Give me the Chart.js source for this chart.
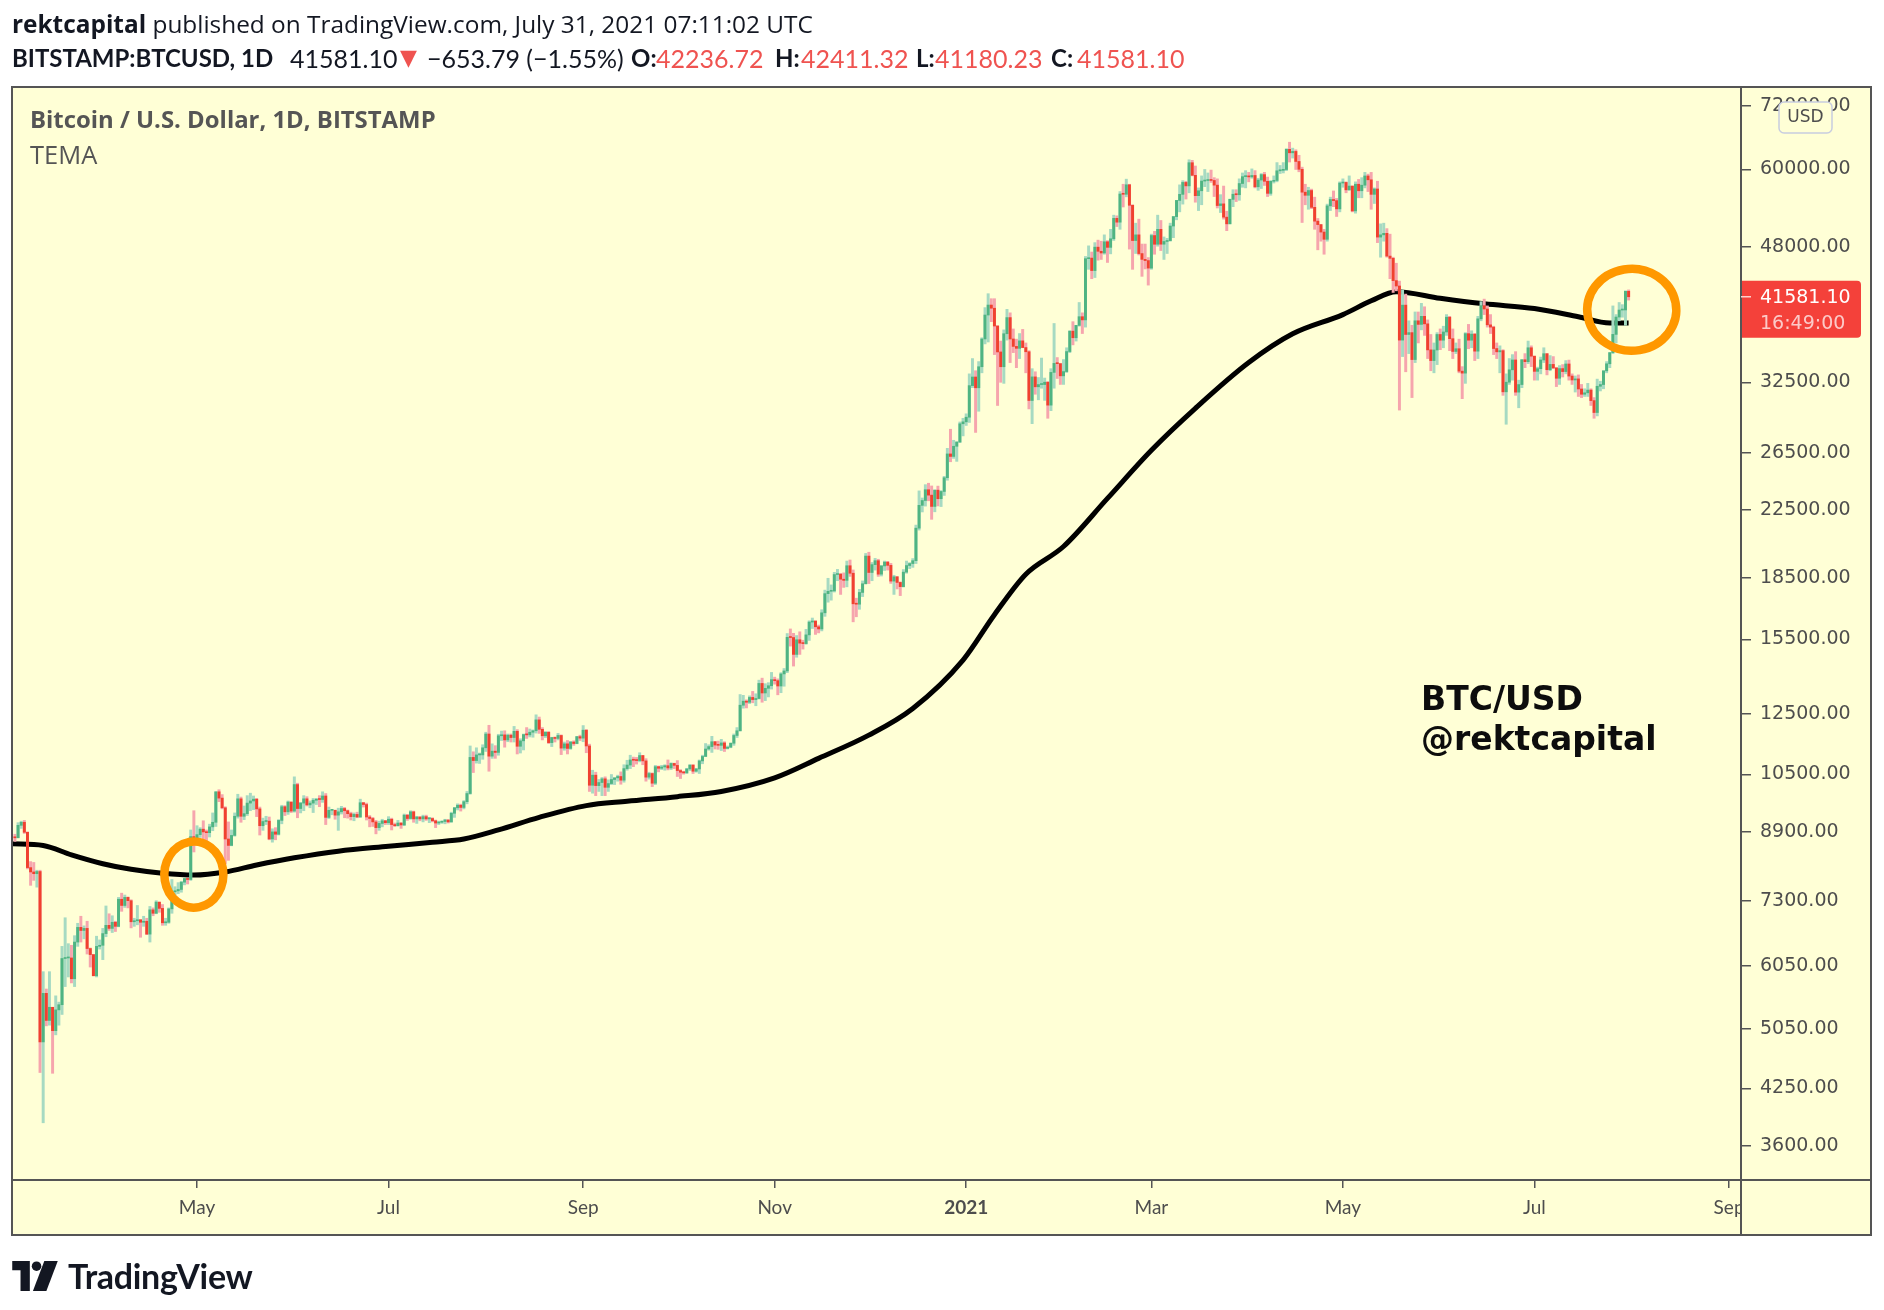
<!DOCTYPE html>
<html>
<head>
<meta charset="utf-8">
<script src="https://cdn.jsdelivr.net/npm/chart.js@4.4.1/dist/chart.umd.min.js"></script>
<style>
  html, body { margin: 0; padding: 0; background: #fff; }
  #page { position: relative; width: 1884px; height: 1310px; overflow: hidden; font-family: Lato, "Open Sans", sans-serif; color: #131722; }
  #wrap { position: absolute; left: 0; top: 0; width: 1884px; height: 1310px; }
  .hdr { position: absolute; white-space: nowrap; line-height: 28px; }
  #line1 { left: 12px; top: 10px; font-family: "Open Sans"; font-size: 24.4px; }
  .l2 { top: 44px; font-size: 25px; }
  .l2b { top: 44px; font-size: 24px; font-weight: 700; }
  .red { color: #ef5350; }
  .tri { top: 44px; font-family: "DejaVu Sans"; font-size: 22px; color: #ef5350; }
  .pane-title { position: absolute; left: 30px; top: 105px; font-family: "Open Sans"; font-size: 23.9px; line-height: 28px; font-weight: 700; color: #555; white-space: nowrap; }
  .pane-sub { position: absolute; left: 30px; top: 140px; font-family: "Open Sans"; font-size: 25.5px; line-height: 28px; color: #555; }
  .note { position: absolute; left: 1421px; top: 679px; font: bold 33px "DejaVu Sans"; line-height: 40px; color: #0d0d0d; white-space: nowrap; }
  #logo { position: absolute; left: 12px; top: 1255px; display: flex; align-items: center; }
  #logo span { font: bold 34px Lato; color: #131722; margin-left: 10px; letter-spacing: -0.3px; }
</style>
</head>
<body>
<div id="page">
  <div id="wrap"><canvas id="chart"></canvas></div>
  <div id="line1" class="hdr"><b>rektcapital</b> published on TradingView.com, July 31, 2021 07:11:02 UTC</div>
  <div class="hdr l2b" style="left:12px">BITSTAMP:BTCUSD, 1D</div>
  <div class="hdr l2" style="left:290px">41581.10</div>
  <div class="hdr tri" style="left:400px">▼</div>
  <div class="hdr l2" style="left:427px">−653.79 (−1.55%)</div>
  <div class="hdr l2b" style="left:631px">O:</div><div class="hdr l2 red" style="left:656px">42236.72</div>
  <div class="hdr l2b" style="left:775px">H:</div><div class="hdr l2 red" style="left:801px">42411.32</div>
  <div class="hdr l2b" style="left:916px">L:</div><div class="hdr l2 red" style="left:935px">41180.23</div>
  <div class="hdr l2b" style="left:1051px">C:</div><div class="hdr l2 red" style="left:1077px">41581.10</div>
  <div class="pane-title">Bitcoin / U.S. Dollar, 1D, BITSTAMP</div>
  <div class="pane-sub">TEMA</div>
  <div class="note">BTC/USD<br>@rektcapital</div>
  <div id="logo">
    <svg width="46" height="30" viewBox="0 0 44 29">
      <path d="M0 0 H17 V29 H8 V9 H0 Z" fill="#131722"/>
      <circle cx="23.5" cy="5" r="4.6" fill="#131722"/>
      <path d="M31 0 H44 L33 29 H20 Z" fill="#131722"/>
    </svg>
    <span>TradingView</span>
  </div>
</div>
<script>
// daily candles, first one is 2020-03-04, one per day up to 2021-07-31
const startDate = '2020-03-04';

const opens = [
  8760,8750,9070,9150,8890,8030,7930,7890,7940,4860,5590,5170,5370,5020,5330,5410,6180,6190,6190,5830,6480,6760,6700,6740,6360,6250,5880,6400,
  6420,6640,6800,6740,6860,6780,7330,7200,7370,7300,6870,6890,6910,6860,6880,6630,7110,7040,7270,7140,6850,6860,7130,7490,7510,7540,7700,7780,7760,8780,
  8620,8830,8970,8900,8880,9030,9150,9990,9810,9540,8720,8560,8810,9310,9790,9310,9380,9670,9730,9780,9510,9060,9170,9180,8720,8900,8840,9200,9570,9430,9700,
  9450,10200,9520,9670,9790,9620,9670,9750,9780,9770,9870,9280,9470,9470,9340,9430,9520,9460,9380,9300,9360,9290,9680,9630,9290,9250,9160,9010,9120,9190,
  9140,9230,9090,9060,9130,9080,9340,9250,9430,9240,9290,9240,9300,9240,9250,9190,9130,9150,9170,9210,9160,9390,9540,9610,9550,9710,9940,11030,10930,11110,11110,
  11340,11800,11070,11230,11190,11740,11770,11600,11760,11680,11890,11390,11570,11780,11770,11860,11910,12290,11960,11740,11860,11510,11680,11650,11750,11330,11470,11320,11530,11480,11710,
  11660,11930,11400,10180,10480,10170,10260,10370,10120,10230,10350,10400,10440,10330,10680,10790,10950,10940,10930,11090,10920,10420,10530,10240,10740,10690,10730,10770,10700,10840,
  10780,10620,10570,10550,10670,10790,10600,10670,10920,11060,11300,11380,11540,11430,11420,11500,11320,11360,11490,11750,11910,12820,12970,12930,13110,13030,13070,13650,13280,13460,13560,
  13800,13760,13550,14030,14150,15590,15580,14840,15480,15330,15310,15700,16290,16340,16070,15970,16730,17680,17800,17820,18680,18700,18430,18370,19160,18750,17170,17150,17740,18190,
  19700,18790,19220,19440,18700,19150,19360,19180,18330,18560,18260,18040,18810,19170,19280,19440,21350,22800,23120,23850,23480,22730,23820,23240,23730,24690,26440,26250,27030,27360,28840,
  29000,29390,32190,33000,31990,33990,36820,39450,40600,40230,38220,35470,33990,37380,39160,36820,36040,35840,36620,35920,35490,30840,33010,32080,32290,32290,32510,30430,33440,34320,34290,
  33110,33520,35510,37660,36950,38290,39260,38900,46400,46480,44840,47970,47400,47170,48720,47940,49140,52120,51550,55900,55860,57410,54120,48890,49700,47090,46310,46150,
  45160,49600,48370,50500,48380,48760,48880,50980,52380,54880,55850,57800,57230,61180,59000,55640,56430,58030,58120,58280,58130,57350,54080,54340,52300,51300,55050,55870,55790,57620,58770,
  58800,58730,58970,57080,58200,59120,57990,56010,57990,58130,59770,59850,59990,63580,62950,63200,61400,60030,56200,55700,56470,53800,51700,51190,50100,49070,54030,55030,54850,53560,
  57700,57800,56580,57200,53250,57500,56430,57340,58890,58240,55850,56720,49380,49700,49920,46750,46450,43560,42890,36700,40590,37300,37500,34700,38800,38400,39300,38460,35680,34600,35670,
  37300,36690,37570,39200,36850,35520,35800,33560,33370,37390,36690,37340,35550,39020,40530,40140,38350,38100,35820,35480,35600,31620,32510,33690,34660,31590,32290,34680,34490,35900,
  35040,33540,33800,34660,35290,33700,34220,33880,32880,33810,33520,34260,33090,32720,32820,31880,31400,31530,31780,30830,29790,32130,32290,33590,34280,35400,37310,39220,40020,40030,42236.72
];
const highs = [
  8840,9140,9180,9200,8900,8170,8150,7970,7970,5950,5660,5950,5370,5550,5450,6400,6950,6450,6420,6600,6840,6980,6790,6880,6370,6250,6590,6520,
  6740,7190,7030,6990,6880,7370,7460,7420,7380,7320,6940,7200,6910,6980,6940,7180,7150,7300,7270,7220,6940,7150,7760,7600,7690,7720,7790,7790,8950,9460,
  9060,9010,9190,8950,9100,9400,9990,10050,9910,9570,9160,8950,9400,9920,9840,9590,9880,9950,9870,9800,9560,9260,9310,9290,8980,9010,9220,9610,9600,9730,9700,
  10430,10240,9690,9880,9850,9730,9800,9800,9880,9990,9940,9560,9490,9480,9530,9580,9550,9480,9420,9400,9420,9780,9690,9670,9330,9280,9200,9180,9230,9200,
  9300,9260,9130,9200,9140,9370,9360,9460,9450,9310,9300,9340,9340,9280,9270,9210,9180,9190,9230,9220,9420,9550,9650,9640,9740,10000,11400,11210,11340,11170,11440,
  11860,12100,11470,11410,11790,11900,11910,11800,11800,12060,11950,11640,11800,12020,11970,11940,12470,12390,12020,11880,11880,11690,11700,11820,11770,11530,11580,11550,11570,11720,11760,
  12090,11950,11460,10630,10570,10350,10410,10430,10340,10500,10400,10480,10580,10800,10940,11100,11040,11030,11180,11090,10990,10570,10550,10780,10760,10780,10800,10950,10860,10850,
  10930,10650,10600,10690,10800,10800,10690,10950,11100,11480,11440,11720,11550,11560,11620,11540,11400,11500,11800,12020,13220,13190,13020,13170,13340,13250,13780,13860,13640,13680,14090,
  13900,13830,14080,14250,15760,15970,15770,15670,15840,15460,15950,16350,16480,16340,16150,16880,17860,18480,18130,18800,18960,18740,18770,19420,19480,18930,17450,17900,18340,19850,
  19920,19340,19570,19520,19170,19420,19400,19290,18640,18570,18290,18950,19420,19330,19560,21540,23770,23290,24200,24300,24110,23840,24100,23790,24790,26870,28390,27500,27390,28990,29300,
  29680,33300,34800,33600,34500,36950,40300,41950,41350,41350,38260,36600,37800,40100,39700,37900,36800,37400,37850,36400,35600,33800,33500,32950,34850,32900,32560,33800,38500,34900,34330,
  34700,35900,37700,38700,38300,40900,39700,46700,48150,47300,48600,48950,48800,49700,48880,50500,52600,52500,56300,57500,58350,57500,54190,51400,52000,48400,48400,46550,
  49800,50200,52600,51800,49400,49200,51400,52400,54900,57400,58100,58000,61700,61600,60600,56900,58900,60000,59400,59900,58600,58400,55800,57200,53200,55100,56600,56600,58400,59400,59800,
  59500,60100,59800,58500,59300,59500,58700,58100,58900,61200,60700,61200,63700,64900,63800,63500,62500,60400,57500,57000,56700,55400,52100,51200,50500,54300,55400,56400,55200,57900,
  58400,57900,58900,57200,57900,58300,58600,59500,59200,59500,56900,58000,51300,51400,50600,49800,46600,45800,43500,42400,41900,38800,38300,39800,39800,40800,40400,38900,37300,36400,37500,
  37900,38200,39500,39300,37900,36400,36800,34000,37500,38400,37700,37400,39300,41000,41300,40500,39500,38200,36400,36100,35700,33300,34800,35200,35500,32700,34700,35300,36600,36100,
  35050,33950,34950,35900,35300,35100,35000,33900,34100,34200,34600,34650,33300,33100,33200,32300,31900,32400,31900,31100,32800,32600,33600,34500,35400,40500,39500,40900,40650,42300,42411.32
];
const lows = [
  8660,8750,8990,8860,8000,7630,7740,7590,4450,3850,5090,5100,4440,4960,5100,5260,5700,5860,5760,5700,6400,6480,6540,6260,6030,5880,5860,6350,
  6160,6580,6700,6660,6680,6770,7080,7160,7150,6750,6780,6810,6570,6780,6620,6480,6990,7030,7060,6800,6800,6840,7040,7420,7450,7480,7640,7660,7740,8400,
  8620,8760,8710,8530,8770,8930,9040,9710,9510,8120,8200,8550,8790,9260,9150,9220,9330,9460,9490,9300,8820,8940,9090,8700,8640,8700,8820,9110,9330,9360,9410,
  9420,9270,9400,9460,9590,9540,9410,9630,9570,9690,9090,9250,9350,9230,8940,9370,9270,9260,9210,9190,9270,9280,9560,9210,9030,9040,8850,8940,9030,9090,
  9090,8950,9040,9050,8990,9060,9200,9230,9150,9120,9190,9160,9200,9140,9160,9010,9090,9120,9110,9130,9150,9280,9480,9450,9510,9650,9920,10560,10850,10840,10970,
  11220,10600,11000,11000,11100,11580,11360,11540,11530,11530,11140,11170,11270,11650,11700,11690,11830,11820,11600,11680,11480,11380,11530,11600,11120,11260,11140,11290,11420,11470,11580,
  11540,11180,10000,9950,9880,10000,9880,9880,10000,10200,10200,10300,10210,10270,10630,10680,10740,10820,10890,10800,10300,10360,10140,10200,10580,10650,10630,10640,10650,10680,
  10440,10380,10510,10530,10620,10530,10570,10530,10830,11060,11260,11190,11300,11290,11250,11220,11300,11340,11420,11680,11900,12710,12720,12880,12910,12800,13050,12930,12990,13130,13430,
  13620,13210,13290,13540,14080,15200,14350,14720,14840,15070,15280,15450,15990,15720,15790,15880,16560,17250,17350,17760,18350,17640,18000,18030,18580,16300,16540,16900,17530,18180,
  18200,18350,18920,18580,18600,18900,18920,18210,17640,17920,17580,18020,18750,19000,19070,19280,21230,22370,22750,23100,21900,22380,22760,22720,23460,24510,25850,26100,25880,27320,27850,
  28700,28950,32000,28130,29900,33400,36300,36500,38700,35200,30400,32500,32400,36700,34400,35400,33900,34800,35900,33400,30100,28850,31400,30900,31950,30850,29300,29950,31950,32860,32300,
  32300,33430,35400,36200,36600,38200,37400,38100,45000,43800,43950,46200,46300,47000,45900,47050,48900,50900,50500,53850,55450,47700,45000,47100,46900,44100,45050,43000,
  45000,47000,48100,47500,46300,47100,48800,49300,51900,53100,54300,55100,56100,58900,54600,53300,54200,57100,56300,57800,55500,53700,53000,52000,50300,51300,53900,54700,54900,57000,56900,
  57900,58500,56900,56500,56800,57300,55500,55700,57700,57900,59300,59400,59800,61300,62000,60000,59600,51500,54200,53500,53600,50500,47600,48800,47000,48800,53300,53900,52400,53100,
  57000,56100,56500,53100,52900,55300,55300,56900,56300,53500,54400,48600,46600,48800,46600,43800,42100,42300,30000,35000,33500,35300,31100,34400,36400,37800,37200,34800,33600,33400,34200,
  35700,35900,37200,35600,34800,35300,33400,31000,32400,35800,35900,34600,34800,38800,39500,38100,37400,35200,34800,33400,31300,28800,32300,32700,31300,30200,32000,33900,34300,34000,
  32700,32700,33300,34400,33200,33600,33800,32100,32300,33000,33300,32700,32300,31600,31200,31100,31200,31200,30400,29300,29500,31700,31900,33400,33900,35300,36400,38800,39200,38300,41180.23
];
const closes = [
  8750,9070,9150,8890,8030,7930,7890,7940,4860,5590,5170,5370,5020,5330,5410,6180,6190,6190,5830,6480,6760,6700,6740,6360,6250,5880,6400,6420,
  6640,6800,6740,6860,6780,7330,7200,7370,7300,6870,6890,6910,6860,6880,6630,7110,7040,7270,7140,6850,6860,7130,7490,7510,7540,7700,7780,7760,8780,8620,
  8830,8970,8900,8880,9030,9150,9990,9810,9540,8720,8560,8810,9310,9790,9310,9380,9670,9730,9780,9510,9060,9170,9180,8720,8900,8840,9200,9570,9430,9700,9450,
  10200,9520,9670,9790,9620,9670,9750,9780,9770,9870,9280,9470,9470,9340,9430,9520,9460,9380,9300,9360,9290,9680,9630,9290,9250,9160,9010,9120,9190,9140,
  9230,9090,9060,9130,9080,9340,9250,9430,9240,9290,9240,9300,9240,9250,9190,9130,9150,9170,9210,9160,9390,9540,9610,9550,9710,9940,11030,10930,11110,11110,11340,
  11800,11070,11230,11190,11740,11770,11600,11760,11680,11890,11390,11570,11780,11770,11860,11910,12290,11960,11740,11860,11510,11680,11650,11750,11330,11470,11320,11530,11480,11710,11660,
  11930,11400,10180,10480,10170,10260,10370,10120,10230,10350,10400,10440,10330,10680,10790,10950,10940,10930,11090,10920,10420,10530,10240,10740,10690,10730,10770,10700,10840,10780,
  10620,10570,10550,10670,10790,10600,10670,10920,11060,11300,11380,11540,11430,11420,11500,11320,11360,11490,11750,11910,12820,12970,12930,13110,13030,13070,13650,13280,13460,13560,13800,
  13760,13550,14030,14150,15590,15580,14840,15480,15330,15310,15700,16290,16340,16070,15970,16730,17680,17800,17820,18680,18700,18430,18370,19160,18750,17170,17150,17740,18190,19700,
  18790,19220,19440,18700,19150,19360,19180,18330,18560,18260,18040,18810,19170,19280,19440,21350,22800,23120,23850,23480,22730,23820,23240,23730,24690,26440,26250,27030,27360,28840,29000,
  29390,32190,33000,31990,33990,36820,39450,40600,40230,38220,35470,33990,37380,39160,36820,36040,35840,36620,35920,35490,30840,33010,32080,32290,32290,32510,30430,33440,34320,34290,33110,
  33520,35510,37660,36950,38290,39260,38900,46400,46480,44840,47970,47400,47170,48720,47940,49140,52120,51550,55900,55860,57410,54120,48890,49700,47090,46310,46150,45160,
  49600,48370,50500,48380,48760,48880,50980,52380,54880,55850,57800,57230,61180,59000,55640,56430,58030,58120,58280,58130,57350,54080,54340,52300,51300,55050,55870,55790,57620,58770,58800,
  58730,58970,57080,58200,59120,57990,56010,57990,58130,59770,59850,59990,63580,62950,63200,61400,60030,56200,55700,56470,53800,51700,51190,50100,49070,54030,55030,54850,53560,57700,
  57800,56580,57200,53250,57500,56430,57340,58890,58240,55850,56720,49380,49700,49920,46750,46450,43560,42890,36700,40590,37300,37500,34700,38800,38400,39300,38460,35680,34600,35670,37300,
  36690,37570,39200,36850,35520,35800,33560,33370,37390,36690,37340,35550,39020,40530,40140,38350,38100,35820,35480,35600,31620,32510,33690,34660,31590,32290,34680,34490,35900,35040,
  33540,33800,34660,35290,33700,34220,33880,32880,33810,33520,34260,33090,32720,32820,31880,31400,31530,31780,30830,29790,32130,32290,33590,34280,35400,37310,39220,40020,40030,42236.72,41581.10
];

// the black moving-average line
const temaDates = ['2020-03-03','2020-03-13','2020-03-22','2020-04-01','2020-04-10','2020-04-20','2020-04-30','2020-05-10','2020-05-20','2020-06-01','2020-06-15','2020-07-01','2020-07-15','2020-07-25','2020-08-05','2020-08-18','2020-09-02','2020-09-15','2020-10-01','2020-10-15','2020-11-01','2020-11-15','2020-12-01','2020-12-15','2020-12-31','2021-01-10','2021-01-20','2021-02-01','2021-02-15','2021-03-01','2021-03-15','2021-04-01','2021-04-15','2021-05-01','2021-05-10','2021-05-18','2021-06-01','2021-06-15','2021-07-01','2021-07-15','2021-07-25','2021-07-31'];
const temaValues = [8600,8560,8330,8120,7990,7900,7860,7930,8090,8260,8420,8540,8640,8720,8950,9280,9600,9720,9850,10000,10400,11000,11760,12700,14600,16640,18700,20250,23260,26720,30150,34400,37370,39500,41100,42200,41400,40740,40190,39250,38550,38550];

const yTickValues = [3600, 4250, 5050, 6050, 7300, 8900, 10500, 12500, 15500, 18500, 22500, 26500, 32500, 48000, 60000, 72000];
const xTickDates = ['2020-05-01','2020-07-01','2020-09-01','2020-11-01','2021-01-01','2021-03-01','2021-05-01','2021-07-01','2021-09-01'];
const xTickLabels = ['May','Jul','Sep','Nov','2021','Mar','May','Jul','Sep'];

const lastPrice = 41581.10;
const countdown = '16:49:00';
// hand drawn circles: date and price they are centred on
const circleMarks = [
  { date: '2020-04-30', price: 7870 },
  { date: '2021-08-01', price: 40050 }
];

const paneColor = '#ffffd6';
const lineGray = '#555555';

function dayOf(s) {
  const [yy, mm, dd] = s.split('-').map(Number);
  return (Date.UTC(yy, mm - 1, dd) - Date.UTC(2020, 4, 1)) / 864e5;
}

const day0 = dayOf(startDate);
const candleX = closes.map((_, i) => day0 + i);
const isUp = closes.map((c, i) => c >= opens[i]);
const xTickDays = xTickDates.map(dayOf);

const framePlugin = {
  id: 'frame',
  beforeDraw(chart) {
    const { ctx, chartArea: a, scales: { x, y } } = chart;
    ctx.save();
    ctx.fillStyle = paneColor;
    ctx.fillRect(a.left, a.top, y.right - a.left, x.bottom - a.top);
    ctx.restore();
  },
  afterDatasetsDraw(chart) {
    const { ctx, scales: { x, y } } = chart;
    const radii = [[29.5, 33], [44.5, 41]];
    ctx.save();
    ctx.strokeStyle = '#ff9800';
    ctx.lineWidth = 8.5;
    ctx.lineCap = 'round';
    circleMarks.forEach((m, i) => {
      const cx = x.getPixelForValue(dayOf(m.date));
      const cy = y.getPixelForValue(m.price);
      ctx.beginPath();
      ctx.ellipse(cx, cy, radii[i][0], radii[i][1], 0, -1.75, -1.75 + Math.PI * 2.08);
      ctx.stroke();
    });
    ctx.restore();
  },
  afterDraw(chart) {
    const { ctx, chartArea: a, scales: { x, y } } = chart;
    ctx.save();
    // price-scale cell in the time row
    ctx.fillStyle = paneColor;
    ctx.fillRect(y.left, x.top, y.right - y.left, x.bottom - x.top);

    ctx.strokeStyle = lineGray;
    ctx.lineWidth = 2;
    ctx.strokeRect(a.left, a.top, y.right - a.left, x.bottom - a.top);
    ctx.beginPath();
    ctx.moveTo(y.left, a.top); ctx.lineTo(y.left, x.bottom);
    ctx.moveTo(a.left, x.top); ctx.lineTo(y.right, x.top);
    ctx.stroke();

    // last price label
    const py = y.getPixelForValue(lastPrice);
    ctx.fillStyle = '#f4413a';
    ctx.beginPath();
    ctx.roundRect(y.left + 1, py - 16, 119, 57, [0, 4, 4, 0]);
    ctx.fill();
    ctx.strokeStyle = '#ffd0cc';
    ctx.lineWidth = 1.5;
    ctx.beginPath();
    ctx.moveTo(y.left, py); ctx.lineTo(y.left + 10, py);
    ctx.stroke();
    ctx.font = '19px "DejaVu Sans"';
    ctx.textBaseline = 'middle';
    ctx.textAlign = 'left';
    ctx.fillStyle = '#ffffff';
    ctx.fillText(lastPrice.toFixed(2), y.left + 19, py + 1);
    ctx.fillStyle = 'rgba(255,255,255,0.72)';
    ctx.fillText(countdown, y.left + 19, py + 27);

    // currency badge
    ctx.beginPath();
    ctx.roundRect(y.left + 38, a.top + 15, 53, 31, 5);
    ctx.fillStyle = paneColor;
    ctx.fill();
    ctx.strokeStyle = '#c8cde0';
    ctx.lineWidth = 1.5;
    ctx.stroke();
    ctx.fillStyle = '#4d4d4d';
    ctx.font = '17px "DejaVu Sans"';
    ctx.textAlign = 'center';
    ctx.fillText('USD', y.left + 64.5, a.top + 31);
    ctx.restore();
  }
};

new Chart(document.getElementById('chart'), {
  type: 'bar',
  data: {
    datasets: [
      {
        type: 'line',
        label: 'TEMA',
        data: temaDates.map((d, i) => ({ x: dayOf(d), y: temaValues[i] })),
        borderColor: '#000000',
        borderWidth: 5,
        pointRadius: 0,
        cubicInterpolationMode: 'monotone',
        order: 3
      },
      {
        label: 'wicks',
        data: candleX.map((x, i) => ({ x: x, y: [lows[i], highs[i]] })),
        backgroundColor: isUp.map(u => u ? '#a6dac2' : '#f6a5ad'),
        barThickness: 2.3,
        grouped: false,
        order: 2
      },
      {
        label: 'bodies',
        data: candleX.map((x, i) => ({ x: x, y: [opens[i], closes[i]] })),
        backgroundColor: isUp.map(u => u ? '#4fb482' : '#f0412f'),
        barThickness: 2.3,
        minBarLength: 1,
        grouped: false,
        order: 1
      }
    ]
  },
  options: {
    responsive: true,
    maintainAspectRatio: false,
    animation: false,
    events: [],
    layout: { padding: { left: 12, top: 87, right: 13, bottom: 75 } },
    plugins: { legend: { display: false }, tooltip: { enabled: false } },
    scales: {
      x: {
        type: 'linear',
        min: -58.93,
        max: 491.8,
        offset: false,
        afterBuildTicks: s => { s.ticks = xTickDays.map(v => ({ value: v })); },
        afterFit: s => { s.height = 55; },
        border: { display: false },
        grid: { offset: false, drawOnChartArea: false, tickLength: 8, color: lineGray, lineWidth: 1.5 },
        ticks: {
          autoSkip: false,
          maxRotation: 0,
          padding: 8,
          color: '#4d4d4d',
          font: c => ({ family: 'Lato', size: 19, weight: (c.tick && c.tick.value === dayOf('2021-01-01')) ? 'bold' : 'normal' }),
          callback: v => xTickLabels[xTickDays.indexOf(v)]
        }
      },
      y: {
        type: 'logarithmic',
        position: 'right',
        min: 3265,
        max: 76090,
        afterBuildTicks: s => { s.ticks = yTickValues.map(v => ({ value: v })); },
        afterFit: s => { s.width = 130; },
        border: { display: false },
        grid: { drawOnChartArea: false, tickLength: 10, color: lineGray, lineWidth: 1.5 },
        ticks: {
          autoSkip: false,
          padding: 9,
          color: '#4d4d4d',
          font: { family: 'DejaVu Sans', size: 19 },
          callback: v => Number(v).toFixed(2)
        }
      }
    }
  },
  plugins: [framePlugin]
});
</script>
</body>
</html>
